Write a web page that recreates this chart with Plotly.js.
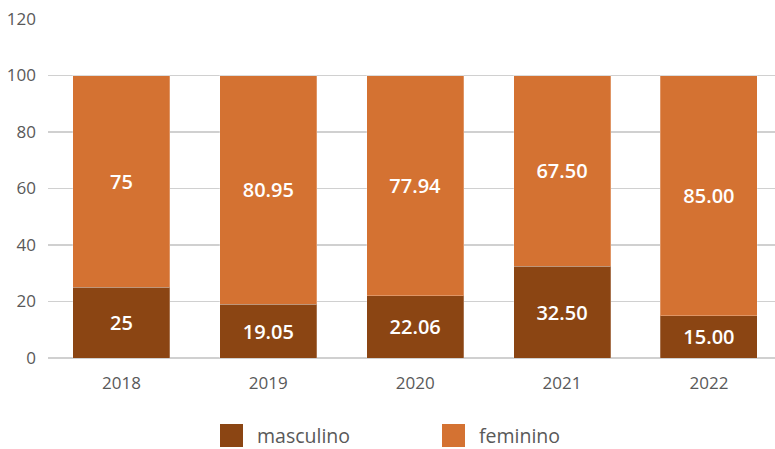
<!DOCTYPE html>
<html><head><meta charset="utf-8">
<script src="https://cdn.plot.ly/plotly-3.0.1.min.js"></script>
<style>html,body{margin:0;padding:0;background:#fff}</style>
</head><body>
<div id="chart" style="width:775px;height:449px"></div>
<script>
const years = ['2018','2019','2020','2021','2022'];
const masculino = [25, 19.05, 22.06, 32.50, 15.00];
const feminino = [75, 80.95, 77.94, 67.50, 85.00];
const masculinoLabels = ['25','19.05','22.06','32.50','15.00'];
const femininoLabels = ['75','80.95','77.94','67.50','85.00'];
const seriesNames = ['masculino','feminino'];
const yTicks = [0,20,40,60,80,100,120];

const cM = '#8B4513', cF = '#D47232';
const colors = [cM, cF];
const tf = {family:'Open Sans, sans-serif', size:20, color:'#ffffff', weight:600};
const traces = [
  {type:'bar', x:years, y:masculino, name:seriesNames[0], marker:{color:cM, line:{color:'rgba(255,255,255,0.25)',width:1}},
   text:masculinoLabels, textposition:'inside', insidetextanchor:'middle', textfont:tf, showlegend:false, hoverinfo:'skip'},
  {type:'bar', x:years, y:feminino, name:seriesNames[1], marker:{color:cF, line:{color:'rgba(255,255,255,0.25)',width:1}},
   text:femininoLabels, textposition:'inside', insidetextanchor:'middle', textfont:tf, showlegend:false, hoverinfo:'skip'}
];

// plot area in pixels: left 48, width 727; top 19, height 339
const L = 48, W = 727, T = 19, H = 339;
const px = v => (v - L) / W;
const py = v => (T + H - v) / H;
const legendX = [220, 442];
const shapes = [], annotations = [];
seriesNames.forEach((n, i) => {
  shapes.push({type:'rect', xref:'paper', yref:'paper', x0:px(legendX[i]), x1:px(legendX[i]+23),
               y0:py(447), y1:py(424), fillcolor:colors[i], line:{width:0}});
  annotations.push({xref:'paper', yref:'paper', x:px(legendX[i]+36), y:py(435.5), xanchor:'left', yanchor:'middle',
                    borderpad:0, text:n, showarrow:false, font:{size:19.5, color:'#595959', family:'Open Sans, sans-serif'}});
});

const layout = {
  width:775, height:449,
  margin:{l:48, r:0, t:19, b:91},
  barmode:'stack', bargap:0.34,
  paper_bgcolor:'#fff', plot_bgcolor:'#fff',
  font:{family:'Open Sans, sans-serif', color:'#595959'},
  xaxis:{type:'category', range:[-0.5,4.45], showgrid:false, zeroline:false, showline:false, automargin:false,
         tickfont:{size:17, color:'#595959'}, ticks:'', ticklen:0, ticklabelstandoff:13},
  yaxis:{range:[0,120], tickvals:yTicks, showgrid:true, gridcolor:'#d0d0d0', gridwidth:1.5, automargin:false,
         zeroline:true, zerolinecolor:'#d0d0d0', zerolinewidth:1.5, showline:false,
         tickfont:{size:17, color:'#595959'}, ticks:'', ticklen:0, ticklabelstandoff:11},
  showlegend:false,
  shapes:shapes, annotations:annotations
};
Plotly.newPlot('chart', traces, layout, {displayModeBar:false, staticPlot:true});
</script>
</body></html>
